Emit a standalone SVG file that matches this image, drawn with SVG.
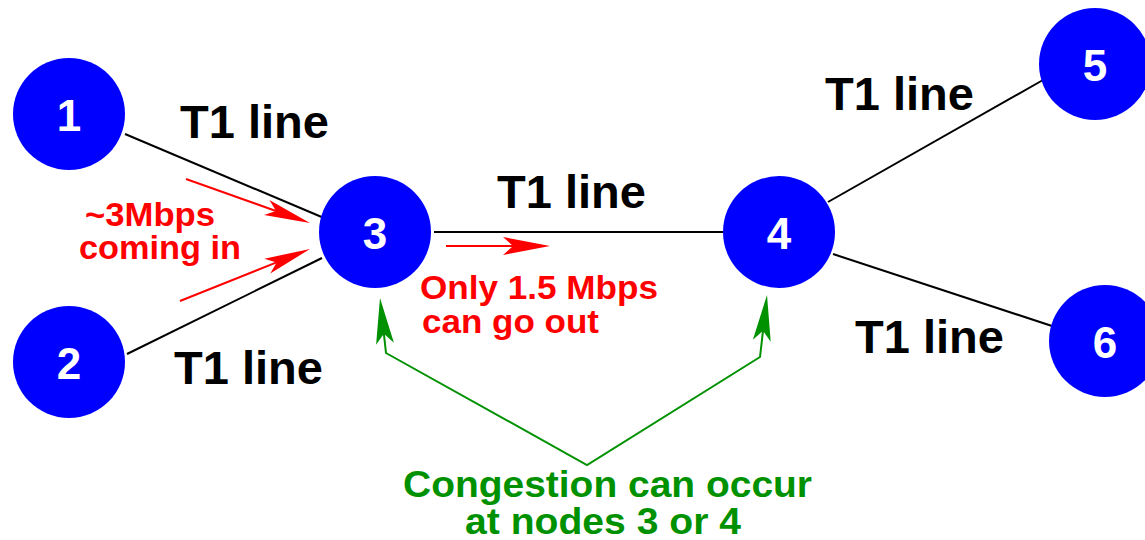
<svg xmlns="http://www.w3.org/2000/svg" width="1145" height="540" viewBox="0 0 1145 540">
<style>
.node{fill:#0000ff}
.nl{fill:#ffffff;font-family:"Liberation Sans",Arial,sans-serif;font-weight:bold;font-size:44px;text-anchor:middle}
.link{stroke:#000;stroke-width:2;fill:none}
.lbl{fill:#000;font-family:"Liberation Sans",Arial,sans-serif;font-weight:bold;font-size:47px}
.red{fill:#ff0000;font-family:"Liberation Sans",Arial,sans-serif;font-weight:bold;font-size:34px}
.grn{fill:#009100;font-family:"Liberation Sans",Arial,sans-serif;font-weight:bold;font-size:37px}
.rl{stroke:#ff0000;stroke-width:2;fill:none}
.rh{fill:#ff0000}
.gl{stroke:#009100;stroke-width:2;fill:none}
.gh{fill:#009100}
</style>
<rect width="1145" height="540" fill="#fff"/>
<g id="connectors">
<line class="link" x1="125" y1="134" x2="324" y2="218"/>
<line class="link" x1="127" y1="354" x2="322" y2="258"/>
<line class="link" x1="434" y1="232" x2="728" y2="232"/>
<line class="link" x1="828" y1="202" x2="1043" y2="80"/>
<line class="link" x1="833" y1="254" x2="1055" y2="327"/>
</g>
<g id="labels">
<text class="lbl" x="180" y="138">T1 line</text>
<text class="lbl" x="174" y="384">T1 line</text>
<text class="lbl" x="497" y="208">T1 line</text>
<text class="lbl" x="825" y="110">T1 line</text>
<text class="lbl" x="855" y="353">T1 line</text>
</g>
<g id="flow-arrows">
<line class="rl" x1="186" y1="179" x2="276" y2="211"/>
<polygon class="rh" points="310,223 264.0,215.1 276.1,211.0 269.4,200.1"/>
<line class="rl" x1="180" y1="301" x2="276.6" y2="262.4"/>
<polygon class="rh" points="310,249 270.3,273.5 276.6,262.4 264.3,258.7"/>
<line class="rl" x1="446" y1="246" x2="513" y2="246"/>
<polygon class="rh" points="550,246 503,237 513,246 503,255"/>
<text class="red" x="85" y="226" textLength="130" lengthAdjust="spacingAndGlyphs">~3Mbps</text>
<text class="red" x="79" y="259" textLength="162" lengthAdjust="spacingAndGlyphs">coming in</text>
<text class="red" x="420" y="299" textLength="238" lengthAdjust="spacingAndGlyphs">Only 1.5 Mbps</text>
<text class="red" x="422" y="333" textLength="177" lengthAdjust="spacingAndGlyphs">can go out</text>
</g>
<g id="congestion">
<polyline class="gl" points="383.9,333.8 386,353 587,465 760,357 763,330.8"/>
<polygon class="gh" points="380,298 393.9,342.7 383.9,333.8 376.1,344.7"/>
<polygon class="gh" points="767,295 770.7,341.7 763,330.8 752.9,339.7"/>
<text class="grn" x="403" y="497" textLength="409" lengthAdjust="spacingAndGlyphs">Congestion can occur</text>
<text class="grn" x="465" y="534" textLength="276" lengthAdjust="spacingAndGlyphs">at nodes 3 or 4</text>
</g>
<g id="node1"><circle class="node" cx="69" cy="114" r="56"/><text class="nl" x="69" y="131">1</text></g>
<g id="node2"><circle class="node" cx="69" cy="362" r="56"/><text class="nl" x="69" y="379">2</text></g>
<g id="node3"><circle class="node" cx="375" cy="232" r="56"/><text class="nl" x="375" y="249">3</text></g>
<g id="node4"><circle class="node" cx="779" cy="232" r="56"/><text class="nl" x="779" y="249">4</text></g>
<g id="node5"><circle class="node" cx="1095" cy="64" r="56"/><text class="nl" x="1095" y="81">5</text></g>
<g id="node6"><circle class="node" cx="1105" cy="341" r="56"/><text class="nl" x="1105" y="358">6</text></g>
</svg>
